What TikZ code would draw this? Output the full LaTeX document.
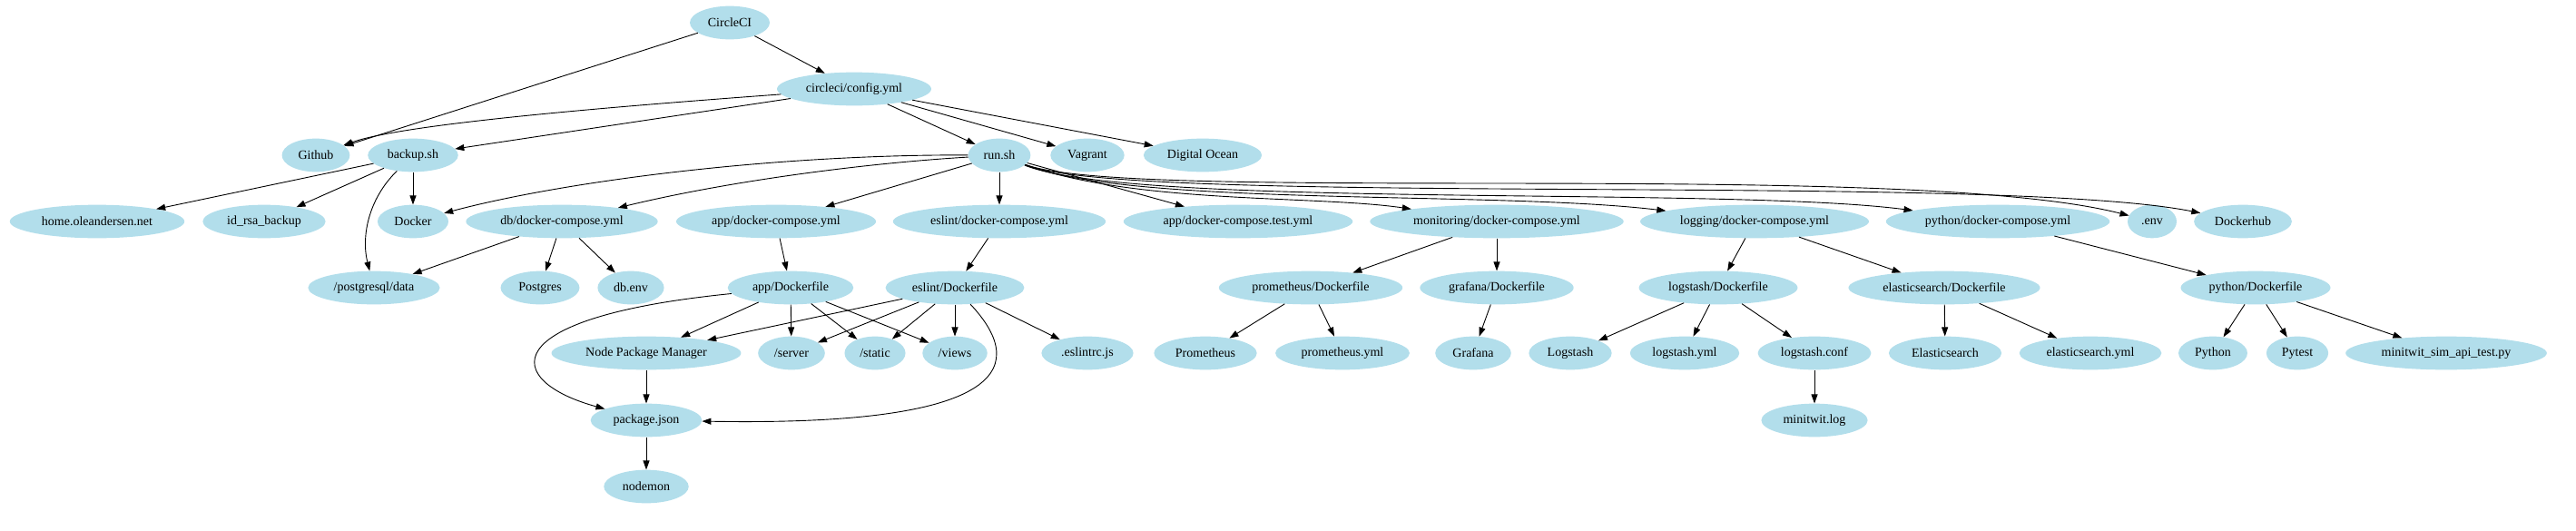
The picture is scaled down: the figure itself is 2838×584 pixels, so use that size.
\documentclass[tikz,border=0pt]{standalone}
\usepackage{fontspec}
\setmainfont{Liberation Serif}
\usepackage{tikz}
\usetikzlibrary{arrows.meta,shapes.geometric}
\definecolor{nodeblue}{RGB}{178,222,235}

\begin{document}
\begin{tikzpicture}[x=1pt, y=-1pt, >={Triangle[length=10pt,width=7pt]},
    font=\fontsize{14}{16}\selectfont,
    gnode/.style={ellipse, fill=nodeblue, inner xsep=7pt, inner ysep=2pt,
                  minimum height=36.7pt, minimum width=54pt},
    edge/.style={->, line width=0.9pt}]

\useasboundingbox (0,0) rectangle (2838,584);

% ==================== NODES ====================

% top
\node[gnode] (circleci) at (804,25) {CircleCI};
\node[gnode] (config) at (941,98) {circleci/config.yml};

% row 2
\node[gnode] (github) at (348,171) {Github};
\node[gnode] (backup) at (455,171) {backup.sh};
\node[gnode] (run) at (1101,171) {run.sh};
\node[gnode] (vagrant) at (1198,171) {Vagrant};
\node[gnode] (docean) at (1325,171) {Digital Ocean};

% row 3
\node[gnode] (home) at (107,244) {home.oleandersen.net};
\node[gnode] (idrsa) at (291,244) {id\_rsa\_backup};
\node[gnode] (docker) at (455,244) {Docker};
\node[gnode] (dbdc) at (619,244) {db/docker-compose.yml};
\node[gnode] (appdc) at (855,244) {app/docker-compose.yml};
\node[gnode] (eslintdc) at (1101,244) {eslint/docker-compose.yml};
\node[gnode] (apptest) at (1364,244) {app/docker-compose.test.yml};
\node[gnode] (mondc) at (1649,244) {monitoring/docker-compose.yml};
\node[gnode] (logdc) at (1933,244) {logging/docker-compose.yml};
\node[gnode] (pydc) at (2201,244) {python/docker-compose.yml};
\node[gnode] (env) at (2371,244) {.env};
\node[gnode] (dhub) at (2471,244) {Dockerhub};

% row 4
\node[gnode] (pgdata) at (412,317) {/postgresql/data};
\node[gnode] (postgres) at (595,317) {Postgres};
\node[gnode] (dbenv) at (695,317) {db.env};
\node[gnode] (appdf) at (871,317) {app/Dockerfile};
\node[gnode] (eslintdf) at (1052,317) {eslint/Dockerfile};
\node[gnode] (promdf) at (1444,317) {prometheus/Dockerfile};
\node[gnode] (grafdf) at (1649,317) {grafana/Dockerfile};
\node[gnode] (logsdf) at (1893,317) {logstash/Dockerfile};
\node[gnode] (elasdf) at (2142,317) {elasticsearch/Dockerfile};
\node[gnode] (pydf) at (2485,317) {python/Dockerfile};

% row 5
\node[gnode] (npm) at (712,389) {Node Package Manager};
\node[gnode] (server) at (872,389) {/server};
\node[gnode] (static) at (964,389) {/static};
\node[gnode] (views) at (1052,389) {/views};
\node[gnode] (eslintrc) at (1198,389) {.eslintrc.js};
\node[gnode] (prom) at (1328,389) {Prometheus};
\node[gnode] (promyml) at (1479,389) {prometheus.yml};
\node[gnode] (grafana) at (1623,389) {Grafana};
\node[gnode] (logstash) at (1730,389) {Logstash};
\node[gnode] (logsyml) at (1856,389) {logstash.yml};
\node[gnode] (logsconf) at (1999,389) {logstash.conf};
\node[gnode] (elastic) at (2143,389) {Elasticsearch};
\node[gnode] (elasyml) at (2303,389) {elasticsearch.yml};
\node[gnode] (python) at (2438,389) {Python};
\node[gnode] (pytest) at (2531,389) {Pytest};
\node[gnode] (simtest) at (2695,389) {minitwit\_sim\_api\_test.py};

% rows 6 and 7
\node[gnode] (pkg) at (712,463) {package.json};
\node[gnode] (mlog) at (1999,463) {minitwit.log};
\node[gnode] (nodemon) at (712,536) {nodemon};

% ==================== EDGES ====================

% CircleCI and config
\draw[edge] (circleci) -- (github);
\draw[edge] (circleci) -- (config);
\draw[edge] (config) .. controls (640,120) and (440,138) .. (github);
\draw[edge] (config) -- (backup);
\draw[edge] (config) -- (run);
\draw[edge] (config) -- (vagrant);
\draw[edge] (config) -- (docean);

% backup.sh
\draw[edge] (backup) -- (home);
\draw[edge] (backup) -- (idrsa);
\draw[edge] (backup) -- (docker);
\draw[edge] (backup) .. controls (405,220) and (398,262) .. (pgdata);

% run.sh, left side
\draw[edge] (run) .. controls (850,170) and (620,200) .. (docker);
\draw[edge] (run) .. controls (950,180) and (800,200) .. (dbdc);
\draw[edge] (run) -- (appdc);
\draw[edge] (run) -- (eslintdc);

% run.sh, right side
\draw[edge] (run) -- (apptest);
\draw[edge] (run) .. controls (1250,225) and (1450,215) .. (mondc);
\draw[edge] (run) .. controls (1250,228) and (1650,210) .. (logdc);
\draw[edge] (run) .. controls (1250,230) and (1900,205) .. (pydc);
\draw[edge] (run) .. controls (1250,225) and (2100,175) .. (env);
\draw[edge] (run) .. controls (1250,228) and (2200,190) .. (dhub);

% compose files
\draw[edge] (dbdc) -- (pgdata);
\draw[edge] (dbdc) -- (postgres);
\draw[edge] (dbdc) -- (dbenv);
\draw[edge] (appdc) -- (appdf);
\draw[edge] (eslintdc) -- (eslintdf);
\draw[edge] (mondc) -- (promdf);
\draw[edge] (mondc) -- (grafdf);
\draw[edge] (logdc) -- (logsdf);
\draw[edge] (logdc) -- (elasdf);
\draw[edge] (pydc) -- (pydf);

% app and eslint Dockerfiles
\draw[edge] (appdf) .. controls (540,350) and (555,420) .. (pkg);
\foreach \t in {npm,server,static,views}
    \draw[edge] (appdf) -- (\t);
\foreach \t in {npm,server,static,views,eslintrc}
    \draw[edge] (eslintdf) -- (\t);
\draw[edge] (eslintdf) .. controls (1130,400) and (1120,470) .. (pkg);
\draw[edge] (npm) -- (pkg);
\draw[edge] (pkg) -- (nodemon);

% other Dockerfiles
\draw[edge] (promdf) -- (prom);
\draw[edge] (promdf) -- (promyml);
\draw[edge] (grafdf) -- (grafana);
\draw[edge] (logsdf) -- (logstash);
\draw[edge] (logsdf) -- (logsyml);
\draw[edge] (logsdf) -- (logsconf);
\draw[edge] (logsconf) -- (mlog);
\draw[edge] (elasdf) -- (elastic);
\draw[edge] (elasdf) -- (elasyml);
\draw[edge] (pydf) -- (python);
\draw[edge] (pydf) -- (pytest);
\draw[edge] (pydf) -- (simtest);

\end{tikzpicture}
\end{document}
